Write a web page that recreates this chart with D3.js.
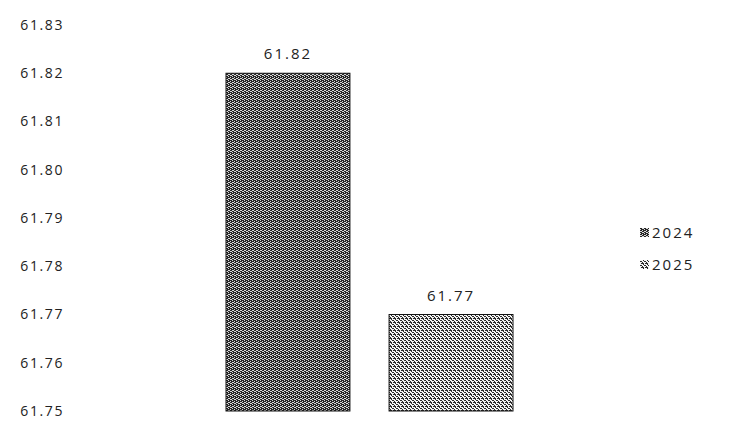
<!DOCTYPE html>
<html>
<head>
<meta charset="utf-8">
<script src="https://cdn.jsdelivr.net/npm/d3@7"></script>
<style>
  body { margin: 0; background: #fff; }
  text { font-family: "Open Sans", "Liberation Sans", sans-serif; }
</style>
</head>
<body>
<div id="chart"></div>
<script>
const years = ["2024", "2025"];
const values = [61.82, 61.77];
const tickValues = [61.75, 61.76, 61.77, 61.78, 61.79, 61.80, 61.81, 61.82, 61.83];

const w = 756;
const h = 424;

const svg = d3.select("#chart")
    .append("svg")
    .attr("width", w)
    .attr("height", h);

// dithered fills, like the scanned original
const defs = svg.append("defs");
const makePattern = (id, bg, dots, dotColor) => {
    const p = defs.append("pattern")
        .attr("id", id)
        .attr("width", 4)
        .attr("height", 4)
        .attr("patternUnits", "userSpaceOnUse");
    p.append("rect").attr("width", 4).attr("height", 4).attr("fill", bg);
    dots.forEach(([x, y]) => {
        p.append("rect").attr("x", x).attr("y", y).attr("width", 1).attr("height", 1).attr("fill", dotColor);
    });
};
makePattern("dark", "#262626", [[0, 0], [2, 1], [1, 2], [3, 3], [2, 3], [0, 2]], "#d8d8d8");
makePattern("light", "#f4f4f4", [[0, 0], [2, 1], [1, 2], [3, 3], [1, 0], [3, 2], [2, 2]], "#2a2a2a");

const y = d3.scaleLinear()
    .domain([61.75, 61.83])
    .range([411, 25]);

const x = d3.scaleBand()
    .domain(years)
    .range([226, 513])
    .paddingInner(0.24)
    .paddingOuter(0);

const color = d3.scaleOrdinal().domain(years).range(["url(#dark)", "url(#light)"]);

// y axis labels only
const axis = svg.append("g")
    .attr("transform", "translate(64,0)")
    .call(d3.axisLeft(y).tickValues(tickValues).tickFormat(d3.format(".2f")).tickSize(0).tickPadding(0));
axis.select(".domain").remove();
axis.selectAll("text")
    .style("font-size", "14px")
    .style("letter-spacing", "1.6px")
    .style("font-family", "\"Open Sans\", sans-serif")
    .attr("fill", "#222");

const bars = svg.selectAll(".bar")
    .data(years)
    .enter()
    .append("g");

bars.append("rect")
    .attr("x", d => x(d))
    .attr("y", (d, i) => y(values[i]))
    .attr("width", x.bandwidth())
    .attr("height", (d, i) => y(61.75) - y(values[i]))
    .attr("fill", d => color(d))
    .attr("stroke", "#111")
    .attr("stroke-width", 1);

bars.append("text")
    .attr("x", d => x(d) + x.bandwidth() / 2)
    .attr("y", (d, i) => y(values[i]) - 14)
    .attr("text-anchor", "middle")
    .style("font-size", "15px")
    .style("letter-spacing", "2px")
    .attr("fill", "#222")
    .text((d, i) => d3.format(".2f")(values[i]));

// legend
const legend = svg.selectAll(".legend")
    .data(years)
    .enter()
    .append("g")
    .attr("transform", (d, i) => `translate(640, ${233 + i * 32})`);

legend.append("rect")
    .attr("x", 0)
    .attr("y", -5)
    .attr("width", 9)
    .attr("height", 9)
    .attr("fill", d => color(d));

legend.append("text")
    .attr("x", 12)
    .attr("y", 0)
    .attr("dy", "0.35em")
    .style("font-size", "15px")
    .style("letter-spacing", "2px")
    .attr("fill", "#222")
    .text(d => d);
</script>
</body>
</html>
